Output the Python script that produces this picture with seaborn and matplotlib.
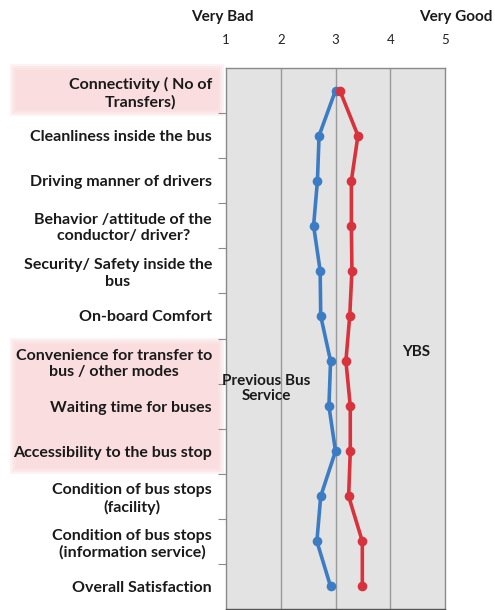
import matplotlib
matplotlib.use("Agg")
import matplotlib.pyplot as plt
import seaborn as sns
import pandas as pd
from matplotlib.patches import Rectangle

items = [
    "Connectivity ( No of\nTransfers)",
    "Cleanliness inside the bus",
    "Driving manner of drivers",
    "Behavior /attitude of the\nconductor/ driver?",
    "Security/ Safety inside the\nbus",
    "On-board Comfort",
    "Convenience for transfer to\nbus / other modes",
    "Waiting time for buses",
    "Accessibility to the bus stop",
    "Condition of bus stops\n(facility)",
    "Condition of bus stops\n(information service)",
    "Overall Satisfaction",
]
previous_bus = [3.00, 2.70, 2.67, 2.60, 2.72, 2.73, 2.91, 2.88, 3.00, 2.73, 2.66, 2.91]
ybs = [3.08, 3.41, 3.29, 3.29, 3.30, 3.26, 3.19, 3.27, 3.27, 3.24, 3.49, 3.49]
scale_ticks = [1, 2, 3, 4, 5]

df = pd.concat([
    pd.DataFrame({"item": items, "score": previous_bus, "service": "Previous Bus Service"}),
    pd.DataFrame({"item": items, "score": ybs, "service": "YBS"}),
])

sns.set_theme(style="white")
plt.rcParams["font.family"] = ["Lato", "DejaVu Sans"]

fig = plt.figure(figsize=(4.95, 6.1), dpi=100)

# soft pink highlight bands behind selected labels (layered for soft edges)
for y0, y1 in [(64, 116), (338, 474)]:
    for k in [0, 2, 4, 6]:
        fig.add_artist(Rectangle(
            ((10 + k) / 495, 1 - (y1 - k) / 610), (214 - 2 * k) / 495, (y1 - y0 - 2 * k) / 610,
            transform=fig.transFigure, facecolor="#f9d2d4", edgecolor="none",
            alpha=0.27, zorder=-5))

ax = fig.add_axes([226 / 495, 1 - 609 / 610, (445 - 226) / 495, (609 - 68) / 610])
ax.patch.set_zorder(-1)
ax.set_facecolor("#e3e3e3")
sns.pointplot(data=df, x="score", y="item", hue="service", orient="h",
              palette={"Previous Bus Service": "#3b7cc4", "YBS": "#d8323d"},
              markers="o", markersize=5, linewidth=2.6, ax=ax, legend=False,
              order=items, zorder=3)

ax.set_xlim(1, 5)
ax.set_ylim(11.5, -0.5)
ax.set_xticks(scale_ticks)
ax.set_xticklabels([str(t) for t in scale_ticks])
ax.xaxis.tick_top()
ax.tick_params(axis="x", length=0, pad=16, labelsize=9.5, colors="#222222")
for x in [2, 3, 4]:
    ax.axvline(x, color="#9a9a9a", lw=1.0, zorder=1)

ax.set_yticks(range(len(items)))
ax.set_yticklabels(items)
ax.tick_params(axis="y", length=0, pad=10, labelsize=11.5)
for lab in ax.get_yticklabels():
    lab.set_fontweight("bold")
    lab.set_multialignment("center")
    lab.set_color("#1a1a1a")
ax.set_yticks([i + 0.5 for i in range(len(items) - 1)], minor=True)
ax.tick_params(axis="y", which="minor", length=6, width=0.8, color="#8c8c8c", left=True)
ax.set_xlabel("")
ax.set_ylabel("")

for side in ["left", "right", "top", "bottom"]:
    ax.spines[side].set_visible(True)
    ax.spines[side].set_color("#8a8a8a")
    ax.spines[side].set_linewidth(1.0)
ax.spines["bottom"].set_color("#555555")

fig.text(222 / 495, 1 - 17 / 610, "Very Bad", ha="center", va="center",
         fontsize=11, fontweight="bold", color="#1a1a1a")
fig.text(456 / 495, 1 - 17 / 610, "Very Good", ha="center", va="center",
         fontsize=11, fontweight="bold", color="#1a1a1a")
ax.text(1.74, 6.6, "Previous Bus\nService", ha="center", va="center",
        fontsize=11, fontweight="bold", color="#1a1a1a", zorder=4, linespacing=1.1)
ax.text(4.47, 5.8, "YBS", ha="center", va="center",
        fontsize=11, fontweight="bold", color="#1a1a1a", zorder=4)

fig.savefig("out.png", dpi=100)
